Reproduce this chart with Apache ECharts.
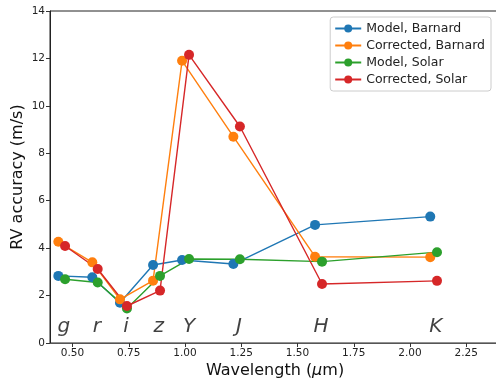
<!DOCTYPE html>
<html>
<head>
<meta charset="utf-8">
<script src="https://cdn.jsdelivr.net/npm/echarts@6/dist/echarts.min.js"></script>
<style>
  html, body { margin: 0; padding: 0; background: #fff; }
  #main { width: 496px; height: 379px; }
</style>
</head>
<body>
<div id="main"></div>
<script type="text/javascript">
// wavelengths (um) and RV accuracy (m/s)
var barnardX = [0.437, 0.588, 0.711, 0.858, 0.987, 1.215, 1.578, 2.09];
var solarX = [0.467, 0.612, 0.742, 0.889, 1.018, 1.244, 1.609, 2.12];

var modelBarnard = [2.83, 2.77, 1.70, 3.29, 3.50, 3.33, 4.98, 5.33];
var correctedBarnard = [4.27, 3.40, 1.84, 2.63, 11.9, 8.70, 3.64, 3.62];
var modelSolar = [2.69, 2.55, 1.46, 2.83, 3.54, 3.53, 3.43, 3.83];
var correctedSolar = [4.09, 3.12, 1.56, 2.21, 12.15, 9.13, 2.49, 2.62];

var bands = ['g', 'r', 'i', 'z', 'Y', 'J', 'H', 'K'];
var bandX = [0.462, 0.608, 0.738, 0.883, 1.018, 1.24, 1.605, 2.115];
var bandY = 0.68;

var xTicks = [0.5, 0.75, 1.0, 1.25, 1.5, 1.75, 2.0, 2.25];

var colors = ['#1f77b4', '#ff7f0e', '#2ca02c', '#d62728'];

function pairs(xs, ys) {
    return xs.map(function (x, i) { return [x, ys[i]]; });
}

function lineSeries(name, xs, ys, color) {
    return {
        name: name,
        type: 'line',
        data: pairs(xs, ys),
        symbol: 'circle',
        symbolSize: 10,
        lineStyle: { color: color, width: 1.4 },
        itemStyle: { color: color },
        emphasis: { disabled: true }
    };
}

var myChart = echarts.init(document.getElementById('main'));

var option = {
    animation: false,
    grid: {
        left: 50, right: -4, top: 11, bottom: 36,
        outerBoundsMode: 'none',
        containLabel: false,
        show: true, borderColor: '#222', borderWidth: 1
    },
    legend: {
        orient: 'vertical',
        right: 5,
        top: 17,
        itemWidth: 26,
        itemHeight: 10,
        itemGap: 4,
        padding: [5, 6, 5, 4],
        borderColor: '#ccc',
        borderWidth: 1,
        borderRadius: 3,
        backgroundColor: 'rgba(255,255,255,0.8)',
        textStyle: { fontFamily: 'DejaVu Sans', fontSize: 12.5, color: '#222' },
        data: ['Model, Barnard', 'Corrected, Barnard', 'Model, Solar', 'Corrected, Solar']
    },
    xAxis: {
        type: 'value',
        min: 0.4,
        max: 2.4,
        name: '{n|Wavelength (}{m|\u03bc}{n|m)}',
        nameLocation: 'middle',
        nameGap: 20,
        nameMoveOverlap: false,
        nameTextStyle: {
            rich: {
                n: { fontFamily: 'DejaVu Sans', fontSize: 16, color: '#111' },
                m: { fontFamily: 'DejaVu Sans', fontStyle: 'italic', fontSize: 16, color: '#111' }
            }
        },
        splitLine: { show: false },
        axisLine: { onZero: false, lineStyle: { color: '#555', width: 1 } },
        axisTick: { customValues: xTicks, length: 4, lineStyle: { color: '#333' } },
        axisLabel: {
            customValues: xTicks,
            formatter: function (v) { return v.toFixed(2); },
            fontFamily: 'DejaVu Sans', fontSize: 10.5, color: '#222', margin: 5
        }
    },
    yAxis: {
        type: 'value',
        min: 0,
        max: 14,
        interval: 2,
        name: 'RV accuracy (m/s)',
        nameLocation: 'middle',
        nameGap: 24,
        nameMoveOverlap: false,
        nameTextStyle: { fontFamily: 'DejaVu Sans', fontSize: 16, color: '#111' },
        splitLine: { show: false },
        axisLine: { show: true, lineStyle: { color: '#222', width: 1 } },
        axisTick: { show: true, length: 4, lineStyle: { color: '#333' } },
        axisLabel: { fontFamily: 'DejaVu Sans', fontSize: 10.5, color: '#222', margin: 5 }
    },
    series: [
        lineSeries('Model, Barnard', barnardX, modelBarnard, colors[0]),
        lineSeries('Corrected, Barnard', barnardX, correctedBarnard, colors[1]),
        lineSeries('Model, Solar', solarX, modelSolar, colors[2]),
        lineSeries('Corrected, Solar', solarX, correctedSolar, colors[3]),
        {
            type: 'scatter',
            silent: true,
            symbolSize: 0,
            data: bands.map(function (b, i) { return { name: b, value: [bandX[i], bandY] }; }),
            label: {
                show: true,
                position: 'inside',
                formatter: '{b}',
                fontFamily: 'DejaVu Sans',
                fontStyle: 'italic',
                fontSize: 20,
                color: '#111'
            }
        }
    ]
};

myChart.setOption(option);
</script>
</body>
</html>
